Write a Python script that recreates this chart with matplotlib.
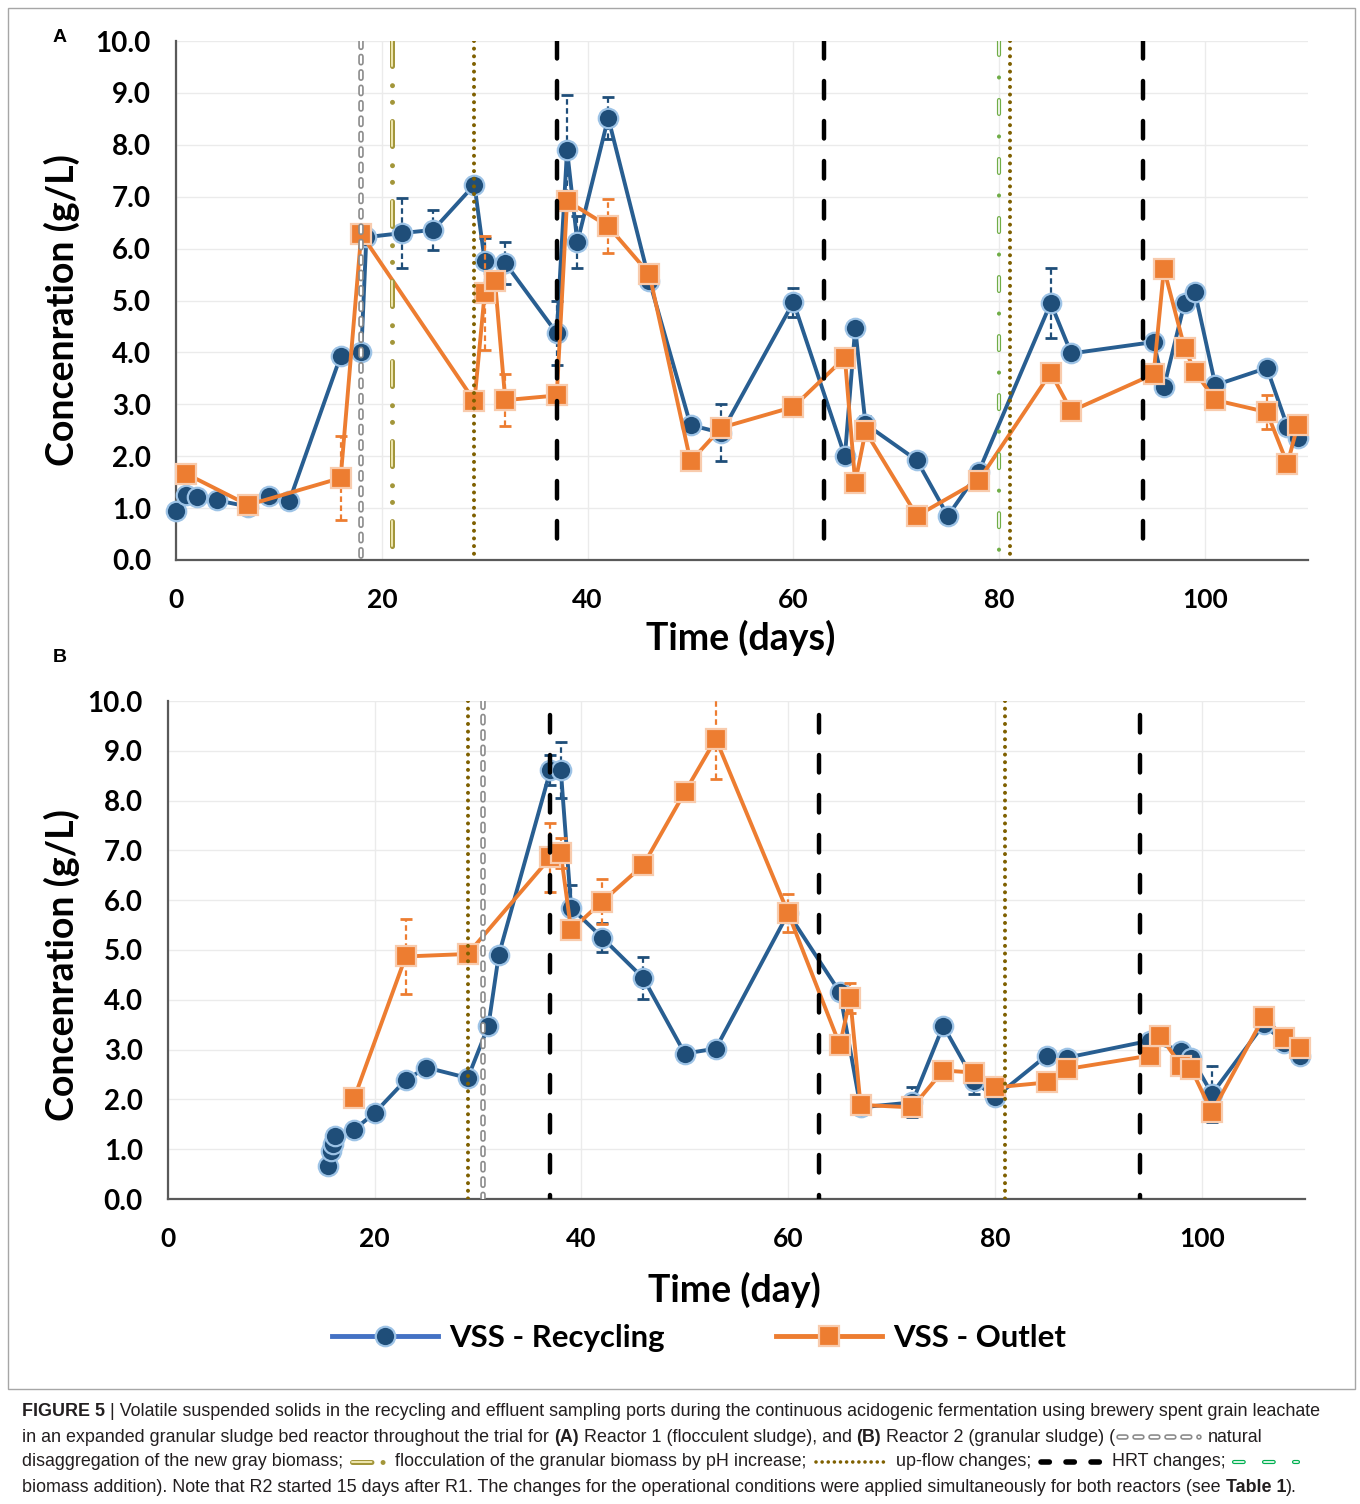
import numpy as np
import matplotlib.pyplot as plt
from matplotlib.lines import Line2D
from matplotlib.patches import Rectangle

plt.rcParams['lines.scale_dashes'] = False
W, H = 1360, 1504

# ---- donnees ----
# (A) reacteur 1
A_rec_day = [0, 1, 2, 4, 7, 9, 11, 16, 18, 18.5, 22, 25, 29, 30, 32, 37, 38, 39, 42, 46,
             50, 53, 60, 65, 66, 67, 72, 75, 78, 85, 87, 95, 96, 98, 99, 101, 106, 108, 109]
A_rec_val = [0.95, 1.25, 1.22, 1.15, 1.03, 1.23, 1.13, 3.93, 4.0, 6.22, 6.3, 6.36, 7.23, 5.76, 5.72,
             4.37, 7.9, 6.12, 8.52, 5.38, 2.6, 2.45, 4.97, 2.0, 4.47, 2.62, 1.92, 0.85, 1.7, 4.95,
             3.98, 4.2, 3.33, 4.95, 5.17, 3.37, 3.7, 2.57, 2.35]
A_rec_err = [0, 0, 0, 0, 0, 0, 0, 0, 0, 0, 0.68, 0.38, 0.1, 0.45, 0.4, 0.62, 1.05, 0.5, 0.4, 0,
             0, 0.55, 0.28, 0, 0, 0.15, 0, 0, 0, 0.67, 0, 0, 0, 0, 0, 0.1, 0, 0, 0]

A_out_day = [1, 7, 16, 18, 29, 30, 31, 32, 37, 38, 42, 46, 50, 53, 60, 65, 66, 67, 72, 78,
             85, 87, 95, 96, 98, 99, 101, 106, 108, 109]
A_out_val = [1.66, 1.06, 1.58, 6.28, 3.06, 5.15, 5.37, 3.08, 3.17, 6.92, 6.43, 5.51, 1.9, 2.55, 2.95,
             3.9, 1.49, 2.48, 0.85, 1.53, 3.61, 2.87, 3.58, 5.61, 4.09, 3.63, 3.08, 2.85, 1.85, 2.6]
A_out_err = [0, 0, 0.8, 0.15, 0, 1.1, 0, 0.5, 0, 0, 0.52, 0, 0, 0, 0,
             0, 0, 0, 0, 0, 0, 0, 0, 0, 0, 0, 0, 0.33, 0, 0]

# (B) reacteur 2
B_rec_day = [15.5, 15.8, 16, 16.2, 18, 20, 23, 25, 29, 31, 32, 37, 38, 39, 42, 46, 50, 53, 60, 65,
             67, 72, 75, 78, 80, 85, 87, 95, 98, 99, 101, 106, 108, 109.5]
B_rec_val = [0.67, 0.97, 1.1, 1.27, 1.39, 1.73, 2.39, 2.64, 2.43, 3.48, 4.9, 8.61, 8.62, 5.85, 5.25,
             4.43, 2.92, 3.02, 5.74, 4.15, 1.84, 1.94, 3.48, 2.37, 2.04, 2.88, 2.84, 3.18, 2.98, 2.84,
             2.11, 3.51, 3.14, 2.88]
B_rec_err = [0, 0, 0, 0, 0, 0, 0, 0, 0, 0, 0, 0.3, 0.56, 0.45, 0.3, 0.42, 0, 0, 0, 0,
             0, 0.3, 0, 0.27, 0, 0, 0, 0, 0, 0, 0.57, 0, 0, 0]

B_out_day = [18, 23, 29, 37, 38, 39, 42, 46, 50, 53, 60, 65, 66, 67, 72, 75, 78, 80, 85, 87,
             95, 96, 98, 99, 101, 106, 108, 109.5]
B_out_val = [2.02, 4.87, 4.92, 6.86, 6.94, 5.4, 5.97, 6.71, 8.17, 9.24, 5.74, 3.09, 4.03, 1.89, 1.84,
             2.58, 2.54, 2.24, 2.34, 2.61, 2.88, 3.28, 2.68, 2.61, 1.74, 3.65, 3.24, 3.04]
B_out_err = [0, 0.76, 0, 0.7, 0.3, 0, 0.45, 0, 0, 0.8, 0.38, 0, 0.3, 0, 0,
             0, 0, 0, 0, 0, 0, 0, 0, 0, 0, 0, 0, 0]

# changements operatoires (jours)
A_events = [(18, 'gray'), (21, 'floc'), (29, 'upflow'), (37, 'hrt'), (63, 'hrt'),
            (94, 'hrt'), (80, 'green'), (81, 'upflow')]
B_events = [(29, 'upflow'), (30.5, 'gray'), (37, 'hrt'), (63, 'hrt'), (94, 'hrt'), (81, 'upflow')]

# styles des traits verticaux : (couleur, epaisseur, tirets en points)
vstyles = {
    'gray':   [('#8C8C8C', 4.0, (4.6, 6.5)), ('white', 1.6, (4.6, 6.5))],
    'floc':   [('#A3963A', 3.6, (18, 13.8, 0.01, 12, 0.01, 13.79)), ('#EFE7B0', 1.4, (18, 39.6))],
    'upflow': [('#7F6000', 2.9, (0.01, 5.5))],
    'hrt':    [('black', 3.2, (12.6, 16.2))],
    'green':  [('#70AD47', 3.0, (10, 16.25, 0.01, 16.24)), ('white', 1.2, (10, 32.5))],
}
# petits symboles dans la legende de la figure
istyles = {
    'gray':   [('#8C8C8C', 4.0, (5.0, 6.5)), ('white', 1.6, (5.0, 6.5))],
    'floc':   [('#A3963A', 3.6, (14, 8, 0.01, 30)), ('#EFE7B0', 1.4, (14, 38))],
    'upflow': [('#7F6000', 2.6, (0.01, 4.4))],
    'hrt':    [('black', 4.0, (6.0, 12.0))],
    'green':  [('#00B050', 3.0, (7.0, 14.6)), ('white', 1.2, (7.0, 14.6))],
}

BLUE_L, BLUE_F, BLUE_E = '#285E91', '#1F4E79', '#9DC3E6'
ORNG_L, ORNG_F, ORNG_E = '#ED7D31', '#ED7D31', '#F8CBAD'
FONT = 'Lato'

fig = plt.figure(figsize=(W / 100, H / 100), dpi=100)


def px_axes(l, t, r, b):
    return fig.add_axes([l / W, 1 - b / H, (r - l) / W, (b - t) / H])


def series(ax, d, v, e, lc, fc, ec, mk, ms, z):
    d, v, e = np.asarray(d), np.asarray(v), np.asarray(e)
    m = e > 0
    eb = ax.errorbar(d[m], v[m], yerr=e[m], fmt='none', ecolor=fc, elinewidth=1.6,
                     capsize=4, capthick=2, zorder=z)
    eb[2][0].set_linestyle((0, (4, 2.5)))
    ax.plot(d, v, color=lc, lw=2.8, marker=mk, ms=ms, mfc=fc, mec=ec, mew=1.6,
            zorder=z + 1, clip_on=False)


def setup(ax, top_frac_hrt=1.0, events=()):
    ax.set_xlim(0, 110)
    ax.set_ylim(0, 10)
    ax.set_xticks(np.arange(0, 101, 20))
    ax.set_yticks(np.arange(0, 10.1, 1))
    ax.set_yticklabels(['%.1f' % t for t in np.arange(0, 10.1, 1)])
    ax.tick_params(length=0, labelsize=19, pad=20)
    ax.tick_params(axis='y', labelsize=20, pad=18)
    for lab in ax.get_xticklabels() + ax.get_yticklabels():
        lab.set_fontfamily(FONT)
        lab.set_fontweight('bold')
    ax.grid(True, color='#EBEBEB', lw=1)
    ax.set_axisbelow(True)
    for s in ['top', 'right']:
        ax.spines[s].set_visible(False)
    for s in ['left', 'bottom']:
        ax.spines[s].set_color('#595959')
        ax.spines[s].set_linewidth(1.6)
    for x, kind in events:
        ymax = top_frac_hrt if kind == 'hrt' else 1.0
        for c, lw, ds in vstyles[kind]:
            # trace du haut vers le bas pour que les tirets partent du haut
            ax.plot([x, x], [ymax, 0], transform=ax.get_xaxis_transform(), color=c, lw=lw,
                    linestyle=(0, ds), dash_capstyle='round', zorder=10)


# ---- panneau A ----
axA = px_axes(176, 41, 1308, 560)
series(axA, A_rec_day, A_rec_val, A_rec_err, BLUE_L, BLUE_F, BLUE_E, 'o', 14, 3)
series(axA, A_out_day, A_out_val, A_out_err, ORNG_L, ORNG_F, ORNG_E, 's', 14, 5)
setup(axA, 1.0, A_events)

# ---- panneau B ----
axB = px_axes(168, 701, 1305, 1199)
series(axB, B_rec_day, B_rec_val, B_rec_err, BLUE_L, BLUE_F, BLUE_E, 'o', 14, 3)
series(axB, B_out_day, B_out_val, B_out_err, ORNG_L, ORNG_F, ORNG_E, 's', 14, 5)
setup(axB, 0.972, B_events)

lab_kw = dict(fontsize=27, fontweight='bold', family=FONT, color='black', ha='center', va='center')
fig.text(62 / W, 1 - 310 / H, 'Concenration (g/L)', rotation=90, **lab_kw)
fig.text(62 / W, 1 - 965 / H, 'Concenration (g/L)', rotation=90, **lab_kw)
fig.text(741 / W, 1 - 638 / H, 'Time (days)', **lab_kw)
fig.text(734 / W, 1 - 1290 / H, 'Time (day)', **lab_kw)
fig.text(60 / W, 1 - 38 / H, 'A', fontsize=14, fontweight='bold', family='Liberation Sans', ha='center', va='center')
fig.text(60 / W, 1 - 658 / H, 'B', fontsize=14, fontweight='bold', family='Liberation Sans', ha='center', va='center')

# legende
h1 = Line2D([], [], color='#4472C4', lw=3.5, marker='o', ms=14, mfc=BLUE_F, mec=BLUE_E, mew=1.6)
h2 = Line2D([], [], color=ORNG_L, lw=3.5, marker='s', ms=14, mfc=ORNG_F, mec=ORNG_E, mew=1.6)
fig.legend([h1, h2], ['VSS - Recycling', 'VSS - Outlet'], loc='center', bbox_to_anchor=(0.514, 1 - 1338 / H),
           ncol=2, frameon=False, numpoints=1, handlelength=3.4, columnspacing=3.6, handletextpad=0.35,
           prop=dict(family=FONT, weight='bold', size=22.4))

# cadre
fig.add_artist(Rectangle((8 / W, 1 - 1389 / H), (1355 - 8) / W, (1389 - 8) / H, transform=fig.transFigure,
                         fill=False, ec='#A6A6A6', lw=1))

# ---- legende de la figure ----
CAP_FS = 12.9
rend = fig.canvas.get_renderer()


def text_w(s, bold=False):
    t = fig.text(0, 0, s, fontsize=CAP_FS, family='Liberation Sans', fontweight='bold' if bold else 'normal')
    w = t.get_window_extent(rend).width
    t.remove()
    return w


SP = text_w('a a') - text_w('aa')


def icon(x, y, kind, length):
    for c, lw, ds in istyles[kind]:
        fig.add_artist(Line2D([x / W, (x + length) / W], [1 - y / H, 1 - y / H], transform=fig.transFigure,
                              color=c, lw=lw, linestyle=(0, ds), dash_capstyle='round'))
    return x + length


def cap_line(y, parts):
    x = 22
    for i, p in enumerate(parts):
        if p[0] == 'icon':
            x = icon(x + 4, y, p[1], p[2]) + 4
        else:
            s, bold = p[1], p[0] == 'b'
            t = fig.text(x / W, 1 - y / H, s, fontsize=CAP_FS, family='Liberation Sans',
                         fontweight='bold' if bold else 'normal', color='#231F20', ha='left', va='center')
            x += t.get_window_extent(rend).width
        if i + 1 < len(parts) and not p[-1] == 'nosp':
            x += SP


cap_line(1412, [('b', 'FIGURE 5'),
                ('n', '| Volatile suspended solids in the recycling and effluent sampling ports during the '
                      'continuous acidogenic fermentation using brewery spent grain leachate')])
cap_line(1437, [('n', 'in an expanded granular sludge bed reactor throughout the trial for'), ('b', '(A)'),
                ('n', 'Reactor 1 (flocculent sludge), and'), ('b', '(B)'),
                ('n', 'Reactor 2 (granular sludge) (', 'nosp'), ('icon', 'gray', 80), ('n', 'natural')])
cap_line(1462, [('n', 'disaggregation of the new gray biomass;'), ('icon', 'floc', 34),
                ('n', 'flocculation of the granular biomass by pH increase;'), ('icon', 'upflow', 72),
                ('n', 'up-flow changes;'), ('icon', 'hrt', 62), ('n', 'HRT changes;'), ('icon', 'green', 64)])
cap_line(1487, [('n', 'biomass addition). Note that R2 started 15 days after R1. The changes for the operational '
                      'conditions were applied simultaneously for both reactors (see'),
                ('b', 'Table 1', 'nosp'), ('n', ').')])

plt.savefig('out.png', dpi=100)
